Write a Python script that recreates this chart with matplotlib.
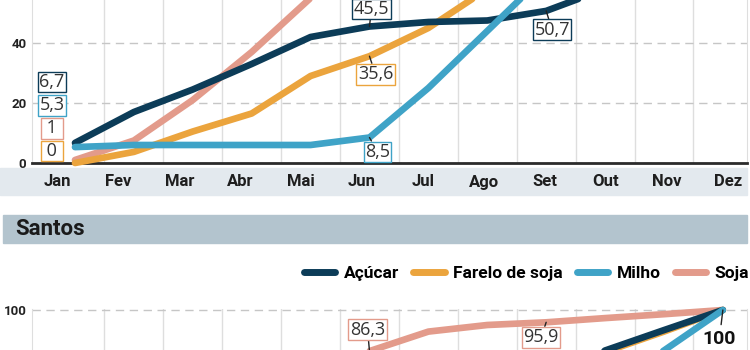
import matplotlib
matplotlib.use('Agg')
import numpy as np
import matplotlib.pyplot as plt
import matplotlib.transforms as mtransforms
from matplotlib.patches import Rectangle
from matplotlib.lines import Line2D

# dados (% acumulado no ano)
meses = ['Jan', 'Fev', 'Mar', 'Abr', 'Mai', 'Jun', 'Jul', 'Ago', 'Set', 'Out', 'Nov', 'Dez']
series = ['Açúcar', 'Farelo de soja', 'Milho', 'Soja']

# grafico de cima (cortado no alto)
acucar_1 = [6.7, 17, 24.5, 33, 42, 45.5, 47, 47.5, 50.7, 58, 79, 100]
farelo_1 = [0, 3.7, 10.5, 16.5, 29, 35.6, 45, 58, 68, 80, 90, 100]
milho_1 = [5.3, 6, 6, 6, 6, 8.5, 25, 44, 63, 75, 88, 100]
soja_1 = [1, 7.5, 21, 37, 55, 68, 78, 85, 90, 94, 97, 100]

# Santos
acucar_2 = [6, 13, 21, 29, 37, 45, 53, 62, 72, 86.5, 93.3, 100]
farelo_2 = [4, 11, 19, 28, 36, 44, 52, 60, 70, 86, 92.8, 100]
milho_2 = [3, 5, 7, 9, 12, 20, 35, 50, 62, 74, 86.5, 100]
soja_2 = [3, 12, 30, 52, 73, 86.3, 92.8, 95, 95.9, 97.3, 98.6, 100]

cores = {'Açúcar': '#0c3c58', 'Farelo de soja': '#eba43d',
         'Milho': '#3fa3c7', 'Soja': '#e39b8b'}
ordem = ['Soja', 'Farelo de soja', 'Açúcar', 'Milho']  # ordem de desenho

W, H = 750, 350
def fx(px):
    return px / W
def fy(py):
    return 1 - py / H

fig = plt.figure(figsize=(7.5, 3.5), dpi=100)
fig.patch.set_facecolor('white')

def fmt(v):
    if v == int(v):
        return str(int(v))
    return ('%.1f' % v).replace('.', ',')

def estilo(ax, spine_baixo, visiveis):
    ax.set_xlim(-0.73, 11.41)
    ax.set_xticks([])
    ax.set_xticks(np.arange(11) + 0.5, minor=True)
    ax.tick_params(axis='x', which='both', length=0, labelbottom=False)
    ax.grid(axis='x', which='minor', color='#dedede', lw=1)
    yt = [0, 20, 40, 60, 80, 100]
    ax.set_yticks(yt)
    # so os rotulos que aparecem no recorte
    ax.set_yticklabels([str(t) if t in visiveis else '' for t in yt],
                       family='Roboto', fontweight='bold', fontsize=9.5,
                       color='#222222')
    ax.grid(axis='y', which='major', color='#c6c6c6', lw=1, dashes=(6, 4))
    ax.tick_params(axis='y', length=0, pad=4)
    ax.spines['top'].set_visible(False)
    ax.spines['left'].set_color('#dedede')
    ax.spines['right'].set_color('#dedede')
    if spine_baixo:
        ax.spines['bottom'].set_color('#2b2b2b')
        ax.spines['bottom'].set_linewidth(2)
        ax.spines['bottom'].set_zorder(3)
    else:
        ax.spines['bottom'].set_visible(False)
    ax.set_axisbelow(True)
    ax.patch.set_alpha(0)

def linhas(ax, dados):
    for i, nome in enumerate(ordem):
        ax.plot(range(12), dados[nome], color=cores[nome], lw=4.8,
                solid_capstyle='round', solid_joinstyle='round',
                zorder=4 + i, clip_on=False)

def rotulo(ax, v, x, dx, dy, cor):
    ax.annotate(fmt(v), xy=(x, v), xytext=(dx, dy), textcoords='offset points',
                ha='center', va='center', fontsize=13, family='Open Sans',
                color='#333333', zorder=20, annotation_clip=False,
                bbox=dict(boxstyle='square,pad=0.08', fc='white', ec=cor, lw=1),
                arrowprops=dict(arrowstyle='-', color='#222222', lw=1,
                                shrinkA=0, shrinkB=0))

# ---- grafico de cima
ax1 = fig.add_axes([fx(32), fy(163), 715 / W, 300 / H])
ax1.set_ylim(0, 100)
estilo(ax1, True, [0, 20, 40])
linhas(ax1, {'Açúcar': acucar_1, 'Farelo de soja': farelo_1,
             'Milho': milho_1, 'Soja': soja_1})

rotulo(ax1, acucar_1[5], 5, 1.4, 12.6, cores['Açúcar'])
rotulo(ax1, farelo_1[5], 5, 4.3, -13, cores['Farelo de soja'])
rotulo(ax1, milho_1[5], 5, 5.8, -10.4, cores['Milho'])
rotulo(ax1, acucar_1[8], 8, 4.3, -13.7, cores['Açúcar'])

# rotulos de janeiro empilhados a esquerda
jan = [(acucar_1[0], 'Açúcar', 27), (milho_1[0], 'Milho', 19.3),
       (soja_1[0], 'Soja', 11.6), (farelo_1[0], 'Farelo de soja', 4)]
for v, nome, ypos in jan:
    t = fmt(v)
    if len(t) == 1:
        t = ' ' + t + ' '
    ax1.text(-0.39, ypos, t, ha='center', va='center', fontsize=13,
             family='Open Sans', color='#333333', zorder=20, clip_on=False,
             bbox=dict(boxstyle='square,pad=0.08', fc='white', ec=cores[nome], lw=1))

# faixa dos meses
fig.add_artist(Rectangle((0, fy(195)), 747 / W, 27 / H, transform=fig.transFigure,
                         color='#e3e9ee', zorder=0))
tr = mtransforms.blended_transform_factory(ax1.transData, fig.transFigure)
for i, m in enumerate(meses):
    fig.text(-0.3 + 1.035 * i, fy(182), m, transform=tr, ha='center', va='center',
             fontsize=12, family='Roboto', fontweight='bold', color='#1e1e1e')

# ---- faixa Santos
fig.add_artist(Rectangle((fx(3), fy(243)), 744 / W, 28 / H, transform=fig.transFigure,
                         color='#b3c4ce', zorder=0))
fig.text(fx(15), fy(229), 'Santos', ha='left', va='center', fontsize=16,
         family='Roboto', fontweight='bold', color='#1a1a1a')

# legenda
hs = [Line2D([], [], color=cores[s], lw=5, solid_capstyle='round') for s in series]
fig.legend(hs, series, loc='center right', bbox_to_anchor=(fx(749), fy(273)),
           ncol=4, frameon=False, handlelength=1.8, handletextpad=0.5,
           columnspacing=0.8, borderaxespad=0, borderpad=0,
           prop=dict(family='Roboto', weight='bold', size=12.5))

# ---- grafico de baixo (cortado embaixo)
ax2 = fig.add_axes([fx(32), fy(610), 715 / W, 300.9 / H])
ax2.set_ylim(0, 100.3)
estilo(ax2, False, [100])
linhas(ax2, {'Açúcar': acucar_2, 'Farelo de soja': farelo_2,
             'Milho': milho_2, 'Soja': soja_2})

rotulo(ax2, soja_2[5], 5, -1.4, 15.5, cores['Soja'])
rotulo(ax2, soja_2[8], 8, -3.6, -10.8, cores['Soja'])
ax2.annotate(fmt(acucar_2[11]), xy=(11, acucar_2[11]), xytext=(-2.5, -21),
             textcoords='offset points', ha='center', va='center', fontsize=14,
             family='Roboto', fontweight='bold', color='#111111', zorder=20,
             annotation_clip=False,
             arrowprops=dict(arrowstyle='-', color='#222222', lw=1,
                             shrinkA=2, shrinkB=0))

fig.savefig('out.png', dpi=100)
